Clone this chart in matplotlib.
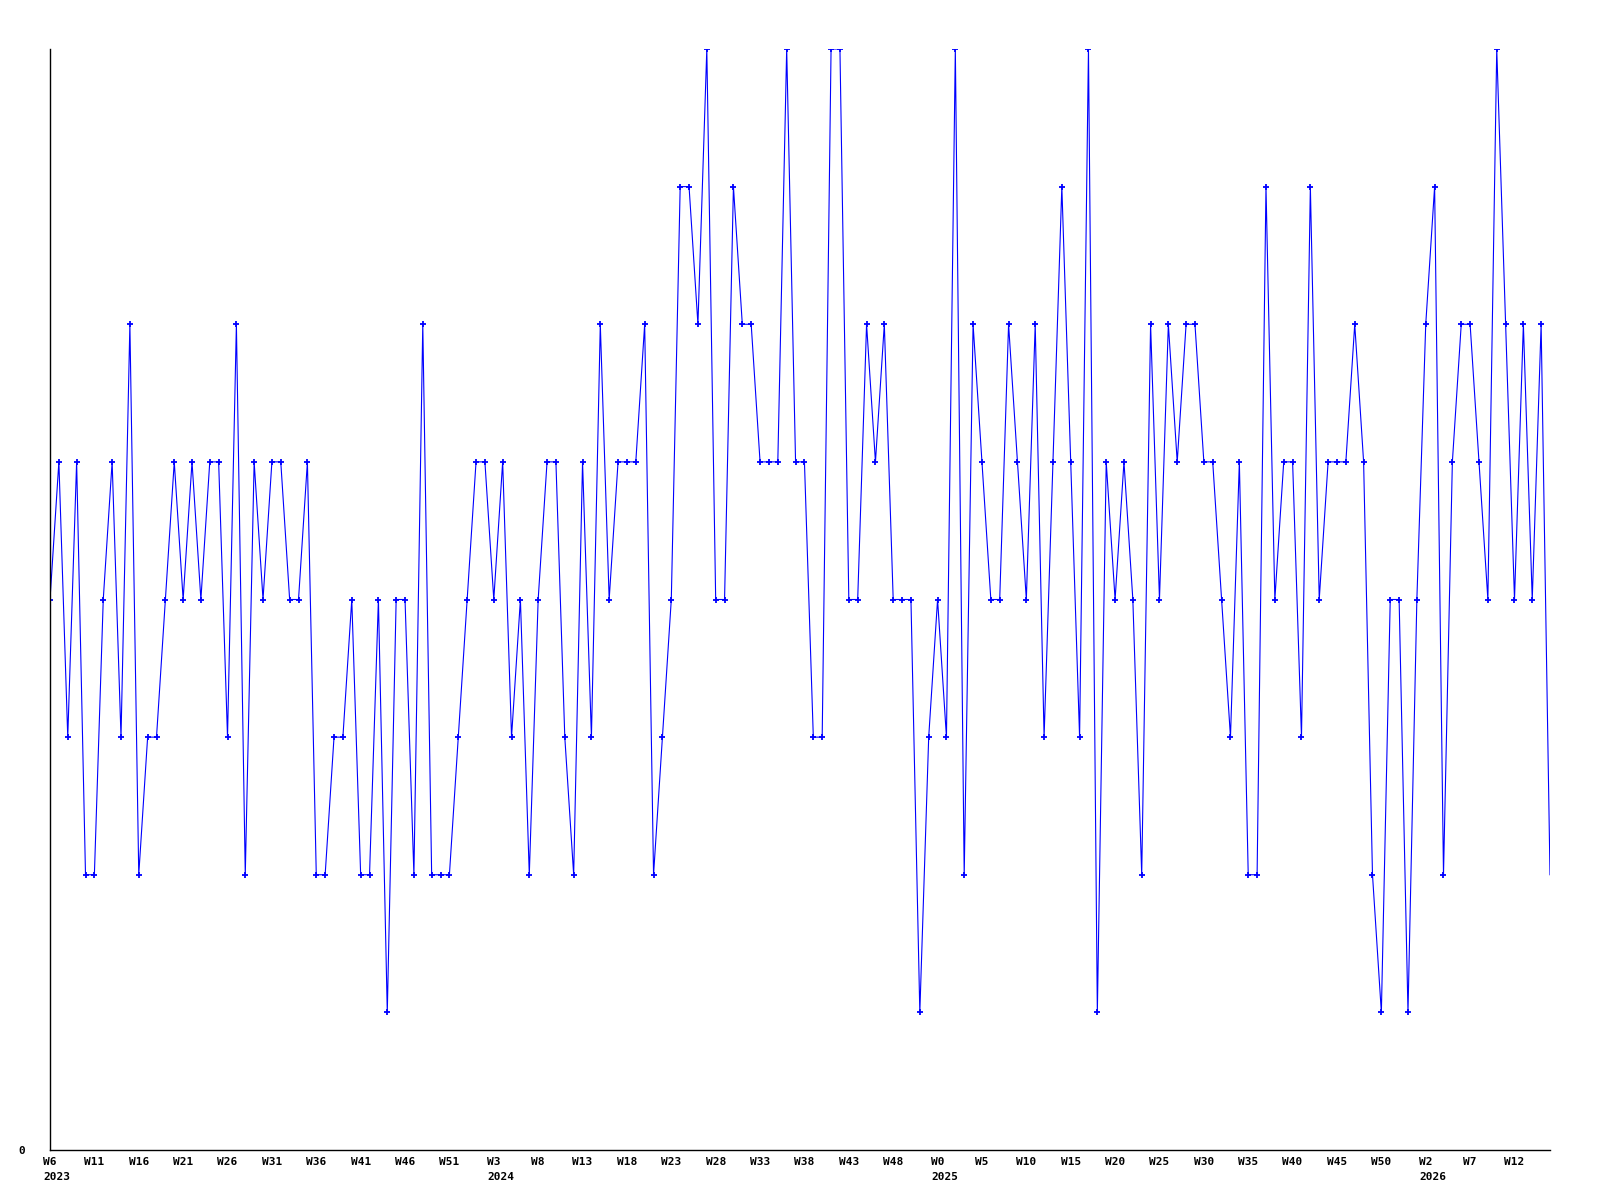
import matplotlib
matplotlib.use('Agg')
import matplotlib.pyplot as plt

# weekly values, 2023 W6 onwards
values = [4, 5, 3, 5, 2, 2, 4, 5, 3, 6,
          2, 3, 3, 4, 5, 4, 5, 4, 5, 5,
          3, 6, 2, 5, 4, 5, 5, 4, 4, 5,
          2, 2, 3, 3, 4, 2, 2, 4, 1, 4,
          4, 2, 6, 2, 2, 2, 3, 4, 5, 5,
          4, 5, 3, 4, 2, 4, 5, 5, 3, 2,
          5, 3, 6, 4, 5, 5, 5, 6, 2, 3,
          4, 7, 7, 6, 8, 4, 4, 7, 6, 6,
          5, 5, 5, 8, 5, 5, 3, 3, 8, 8,
          4, 4, 6, 5, 6, 4, 4, 4, 1, 3,
          4, 3, 8, 2, 6, 5, 4, 4, 6, 5,
          4, 6, 3, 5, 7, 5, 3, 8, 1, 5,
          4, 5, 4, 2, 6, 4, 6, 5, 6, 6,
          5, 5, 4, 3, 5, 2, 2, 7, 4, 5,
          5, 3, 7, 4, 5, 5, 5, 6, 5, 2,
          1, 4, 4, 1, 4, 6, 7, 2, 5, 6,
          6, 5, 4, 8, 6, 4, 6, 4, 6, 2]

week_labels = ['W6', 'W11', 'W16', 'W21', 'W26', 'W31', 'W36', 'W41', 'W46', 'W51',
               'W3', 'W8', 'W13', 'W18', 'W23', 'W28', 'W33', 'W38', 'W43', 'W48',
               'W0', 'W5', 'W10', 'W15', 'W20', 'W25', 'W30', 'W35', 'W40', 'W45', 'W50',
               'W2', 'W7', 'W12']
year_labels = {'W6': '2023', 'W3': '2024', 'W0': '2025', 'W2': '2026'}

x = list(range(len(values)))
tick_pos = x[::5][:len(week_labels)]

mono = 'DejaVu Sans Mono'
fig = plt.figure(figsize=(16, 12), dpi=100)
ax = fig.add_axes([50 / 1600, 1 - 1150 / 1200, 1500 / 1600, 1101 / 1200])

ax.plot(x, values, color='#0000ff', linewidth=0.8, marker='+', markersize=4,
        markeredgewidth=1.3, markevery=list(range(len(values) - 1)))

ax.set_xlim(0, len(values) - 1)
ax.set_ylim(0, 8)
for s in ['top', 'right']:
    ax.spines[s].set_visible(False)
for s in ['left', 'bottom']:
    ax.spines[s].set_linewidth(1.0)

ax.set_yticks([0])
ax.set_yticklabels(['0'], fontfamily=mono, fontweight='bold', fontsize=8)
ax.tick_params(axis='y', length=0, pad=18)

ax.set_xticks(tick_pos)
ax.set_xticklabels(week_labels, fontfamily=mono, fontweight='bold', fontsize=8)
ax.tick_params(axis='x', length=0, pad=5)

for pos, lab in zip(tick_pos, week_labels):
    if lab in year_labels:
        ax.annotate(year_labels[lab], xy=(pos, 0), xycoords='data',
                    xytext=(-len(lab) * 0.6 * 8 / 2, -16), textcoords='offset points',
                    ha='left', va='top', fontfamily=mono, fontweight='bold',
                    fontsize=8, annotation_clip=False)

fig.savefig('out.png', dpi=100)
